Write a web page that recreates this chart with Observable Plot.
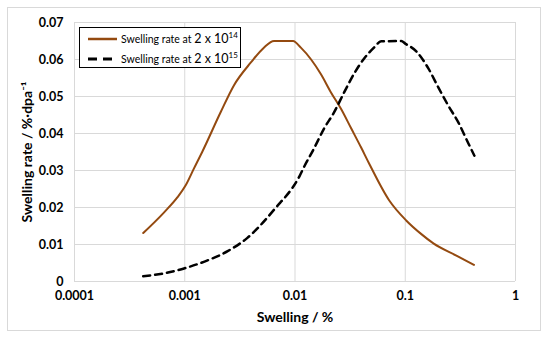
<!DOCTYPE html>
<html>
<head>
<meta charset="utf-8">
<script src="https://cdn.jsdelivr.net/npm/d3@7"></script>
<script src="https://cdn.jsdelivr.net/npm/@observablehq/plot@0.6"></script>
<style>
  html, body { margin: 0; padding: 0; background: #fff; }
  #wrap { position: relative; width: 550px; height: 339px; font-family: Lato, "Open Sans", sans-serif; }
  #frame { position: absolute; left: 7px; top: 7px; width: 534px; height: 324px; border: 1px solid #d9d9d9; box-sizing: border-box; pointer-events: none; }
  #legend { position: absolute; left: 79px; top: 27px; width: 162px; height: 41px; border: 1px solid #000; box-sizing: border-box; background: #fff; font-size: 10.5px; color: #000; }
  .row { position: absolute; left: 7px; display: flex; align-items: center; white-space: nowrap; }
  .row svg { margin-right: 3px; }
  .big { font-size: 12.5px; }
  sup { font-size: 8px; vertical-align: 5px; line-height: 0; }
</style>
</head>
<body>
<div id="wrap"><div id="chart"></div><div id="frame"></div><div id="legend"></div></div>
<script>
// Series 1: swelling rate at 2 x 10^14 (brown, solid)
const s1Swelling = [0.00042, 0.00065, 0.00086, 0.00102, 0.00121, 0.00145, 0.00212, 0.00279, 0.00398, 0.00522, 0.00645, 0.0096, 0.0113, 0.014, 0.0172, 0.0212, 0.0262, 0.0323, 0.0398, 0.047, 0.0716, 0.102, 0.14, 0.18, 0.291, 0.42];
const s1Rate      = [0.0131, 0.0187, 0.0228, 0.026, 0.0305, 0.0352, 0.0458, 0.053, 0.0592, 0.0632, 0.065, 0.065, 0.0632, 0.0600, 0.0560, 0.0511, 0.0466, 0.0414, 0.0362, 0.0319, 0.0219, 0.0165, 0.0128, 0.0103, 0.0070, 0.0045];
// Series 2: swelling rate at 2 x 10^15 (black, dashed)
const s2Swelling = [0.00042, 0.00065, 0.001, 0.00161, 0.00245, 0.0037, 0.0065, 0.011, 0.0121, 0.0149, 0.0184, 0.0226, 0.0279, 0.0344, 0.0424, 0.0512, 0.0605, 0.092, 0.1, 0.126, 0.162, 0.2, 0.245, 0.303, 0.374, 0.424];
const s2Rate      = [0.0014, 0.0022, 0.0036, 0.0057, 0.0082, 0.0118, 0.0195, 0.0285, 0.031, 0.036, 0.0414, 0.0457, 0.0511, 0.0562, 0.0603, 0.063, 0.0649, 0.065, 0.0643, 0.0622, 0.0576, 0.0524, 0.0476, 0.043, 0.0373, 0.034];
const xTicks = [0.0001, 0.001, 0.01, 0.1, 1];
const xTickLabels = ["0.0001", "0.001", "0.01", "0.1", "1"];
const yTicks = [0, 0.01, 0.02, 0.03, 0.04, 0.05, 0.06, 0.07];
const yTickLabels = ["0", "0.01", "0.02", "0.03", "0.04", "0.05", "0.06", "0.07"];
const seriesNames = ["Swelling rate at", "Swelling rate at"];
const seriesBase = ["2 x 10", "2 x 10"];
const seriesExp = ["14", "15"];
const colors = ["#944a10", "#000000"];

const d1 = s1Swelling.map((x, i) => ({x, y: s1Rate[i]}));
const d2 = s2Swelling.map((x, i) => ({x, y: s2Rate[i]}));

const chart = Plot.plot({
  width: 550, height: 339,
  marginLeft: 74, marginRight: 35, marginTop: 22, marginBottom: 58,
  style: {fontFamily: "Lato, 'Open Sans', sans-serif", background: "#fff", color: "#000"},
  x: {type: "log", domain: [0.0001, 1]},
  y: {domain: [0, 0.07]},
  marks: [
    Plot.ruleX(xTicks, {stroke: "#d9d9d9", strokeWidth: 1}),
    Plot.ruleY(yTicks, {stroke: "#d9d9d9", strokeWidth: 1}),
    Plot.axisX({ticks: xTicks, tickFormat: d => xTickLabels[xTicks.indexOf(d)], tickSize: 0, tickPadding: 10, fontSize: 12.5, fontWeight: "bold",
      label: "Swelling / %", labelAnchor: "center", labelArrow: "none", labelOffset: 40}),
    Plot.axisY({ticks: yTicks, tickFormat: d => yTickLabels[yTicks.indexOf(d)], tickSize: 0, tickPadding: 11, fontSize: 12.5, fontWeight: "bold",
      label: "Swelling rate / %·dpa⁻¹", labelAnchor: "center", labelArrow: "none", labelOffset: 52}),
    Plot.line(d1, {x: "x", y: "y", stroke: colors[0], strokeWidth: 2, curve: "monotone-x"}),
    Plot.line(d2, {x: "x", y: "y", stroke: colors[1], strokeWidth: 2.5, strokeDasharray: "7,5", curve: "monotone-x"})
  ]
});
document.getElementById("chart").appendChild(chart);
d3.select(chart).selectAll("[aria-label='x-axis label'] text, [aria-label='y-axis label'] text")
  .style("font-size", "14px").style("font-weight", "bold");

const legend = document.getElementById("legend");
seriesNames.forEach((name, i) => {
  const row = document.createElement("div");
  row.className = "row";
  row.style.top = (i === 0 ? 3 : 23) + "px";
  const dash = i === 0 ? "" : 'stroke-dasharray="9,6"';
  row.innerHTML = `<svg width="31" height="14"><line x1="1" y1="7" x2="30" y2="7" stroke="${colors[i]}" stroke-width="${i === 0 ? 2.5 : 3}" ${dash}/></svg>` +
    `<span>${name} <span class="big">${seriesBase[i]}<sup>${seriesExp[i]}</sup></span></span>`;
  legend.appendChild(row);
});
</script>
</body>
</html>
